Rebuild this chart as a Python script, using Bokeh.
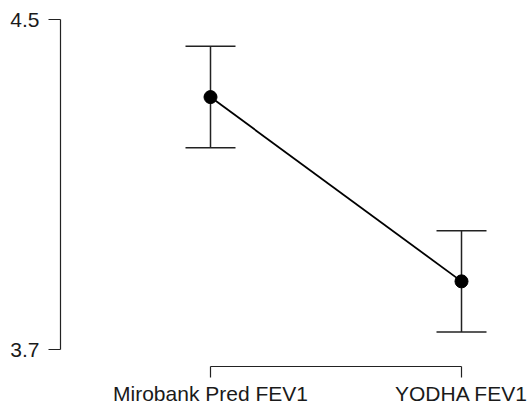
from bokeh.plotting import figure
from bokeh.models import ColumnDataSource, Whisker, TeeHead, FixedTicker, Range1d
from bokeh.embed import file_html
from bokeh.resources import INLINE

labels = ["Mirobank Pred FEV1", "YODHA FEV1"]
positions = [1, 2]
means = [4.313, 3.866]
lower = [4.190, 3.743]
upper = [4.436, 3.989]
y_ticks = [3.7, 4.5]

src = ColumnDataSource(dict(x=positions, m=means, lo=lower, hi=upper))

p = figure(output_backend="svg", toolbar_location=None,
           frame_width=468, frame_height=364,
           min_border_left=60, min_border_right=2, min_border_top=2, min_border_bottom=43,
           x_range=Range1d(0.4024, 2.2669), y_range=Range1d(3.6595, 4.5424))
p.outline_line_color = None
p.grid.visible = False
p.background_fill_color = "white"
p.border_fill_color = "white"

col = "#222222"
w = Whisker(source=src, base="x", upper="hi", lower="lo", line_color=col, line_width=1.5,
            upper_head=TeeHead(size=50, line_color=col, line_width=1.5),
            lower_head=TeeHead(size=50, line_color=col, line_width=1.5))
p.add_layout(w)
p.line("x", "m", source=src, line_color="black", line_width=1.8)
p.scatter("x", "m", source=src, size=13, fill_color="black", line_color="black")

ya = p.yaxis[0]
ya.ticker = FixedTicker(ticks=y_ticks)
ya.bounds = (y_ticks[0], y_ticks[-1])
ya.major_tick_out = 12
ya.major_tick_in = 0
ya.minor_tick_out = 0
ya.minor_tick_in = 0
ya.major_label_standoff = 9
ya.major_label_text_font = "Liberation Sans"
ya.major_label_text_font_size = "21px"
ya.major_label_text_color = "#1a1a1a"
ya.axis_line_color = col
ya.major_tick_line_color = col
ya.axis_line_width = 1.2
ya.major_tick_line_width = 1.2
ya.major_label_overrides = {t: f"{t:.1f}" for t in y_ticks}

xa = p.xaxis[0]
xa.ticker = FixedTicker(ticks=positions)
xa.bounds = (positions[0], positions[-1])
xa.major_label_overrides = {pos: lab for pos, lab in zip(positions, labels)}
xa.major_tick_out = 11
xa.major_tick_in = 0
xa.minor_tick_out = 0
xa.minor_tick_in = 0
xa.major_label_standoff = 4
xa.major_label_text_font = "Liberation Sans"
xa.major_label_text_font_size = "21px"
xa.major_label_text_color = "#1a1a1a"
xa.axis_line_color = col
xa.major_tick_line_color = col
xa.axis_line_width = 1.2
xa.major_tick_line_width = 1.2

open("out.html", "w").write(file_html(p, INLINE))
